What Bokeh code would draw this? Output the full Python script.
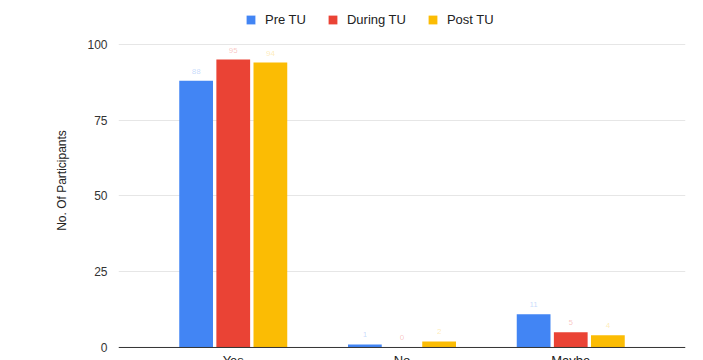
from bokeh.plotting import figure
from bokeh.models import (FactorRange, Range1d, Legend, LegendItem, Label,
                          ColumnDataSource, FixedTicker, Span)
from bokeh.transform import dodge
from bokeh.embed import file_html
from bokeh.resources import INLINE

categories = ["Yes", "No", "Maybe"]
series = ["Pre TU", "During TU", "Post TU"]
pre_tu = [88, 1, 11]
during_tu = [95, 0, 5]
post_tu = [94, 2, 4]
colors = ["#4285F4", "#EA4335", "#FBBC04"]
y_ticks = [0, 25, 50, 75, 100]

FONT = "Liberation Sans"

src = ColumnDataSource(dict(
    cat=categories,
    pre=pre_tu, during=during_tu, post=post_tu,
    pre_lbl=[str(v) for v in pre_tu],
    during_lbl=[str(v) for v in during_tu],
    post_lbl=[str(v) for v in post_tu],
))

# the frame fills the full height so the legend row and the category
# names can live inside it; the value range is widened accordingly
p = figure(width=703, height=360,
           x_range=FactorRange(*categories, range_padding=0.12),
           y_range=Range1d(-4.3, 114.5),
           output_backend="svg", toolbar_location=None,
           min_border_left=118, min_border_right=18,
           min_border_top=0, min_border_bottom=0)

p.outline_line_color = None
p.background_fill_color = "white"

fields = ["pre", "during", "post"]
offsets = [-0.22, 0.0, 0.22]
renderers = []
for f, off, col in zip(fields, offsets, colors):
    r = p.vbar(x=dodge("cat", off, range=p.x_range), top=f, width=0.2,
               bottom=0, source=src, fill_color=col, line_color=None)
    renderers.append(r)
    # faint value labels above each bar
    p.text(x=dodge("cat", off, range=p.x_range), y=f, text=f + "_lbl",
           source=src, text_color=col, text_alpha=0.3,
           text_font_size="8px", text_align="center",
           text_baseline="bottom", y_offset=-7)

# y axis
p.yaxis.ticker = FixedTicker(ticks=y_ticks)
p.yaxis.axis_line_color = None
p.yaxis.major_tick_line_color = None
p.yaxis.minor_tick_line_color = None
p.yaxis.major_label_text_font = FONT
p.yaxis.major_label_text_font_size = "12px"
p.yaxis.major_label_text_color = "#333333"
p.yaxis.axis_label = "No. Of Participants"
p.yaxis.axis_label_text_font = FONT
p.yaxis.axis_label_text_font_size = "12px"
p.yaxis.axis_label_text_font_style = "normal"
p.yaxis.axis_label_text_color = "#222222"
p.yaxis.axis_label_standoff = 15

p.ygrid.ticker = FixedTicker(ticks=y_ticks[1:])
p.ygrid.grid_line_color = "#e6e6e6"
p.xgrid.grid_line_color = None

# x axis hidden; baseline drawn as a span, category names as labels below
p.xaxis.visible = False
p.add_layout(Span(location=0, dimension="width", line_color="#333333",
                  line_width=1))

# factor i sits at synthetic coordinate i + 0.5 on the categorical range
for i, c in enumerate(categories):
    p.add_layout(Label(x=i + 0.5, y=0, y_offset=-6, text=c, text_align="center",
                       text_baseline="top", text_font=FONT,
                       text_font_size="13px", text_color="#222222"))

# legend row at the top (bottom-left corner given as a screen offset
# from the frame's bottom-left)
legend = Legend(items=[LegendItem(label=s, renderers=[r])
                       for s, r in zip(series, renderers)],
                orientation="horizontal", location=(127, 333),
                glyph_width=11, glyph_height=11, label_standoff=9,
                spacing=21, padding=4, margin=0, border_line_color=None,
                background_fill_alpha=0,
                label_text_font=FONT, label_text_font_size="13px",
                label_text_color="#222222", label_height=13)
p.add_layout(legend)

open("out.html", "w").write(file_html(p, INLINE))
